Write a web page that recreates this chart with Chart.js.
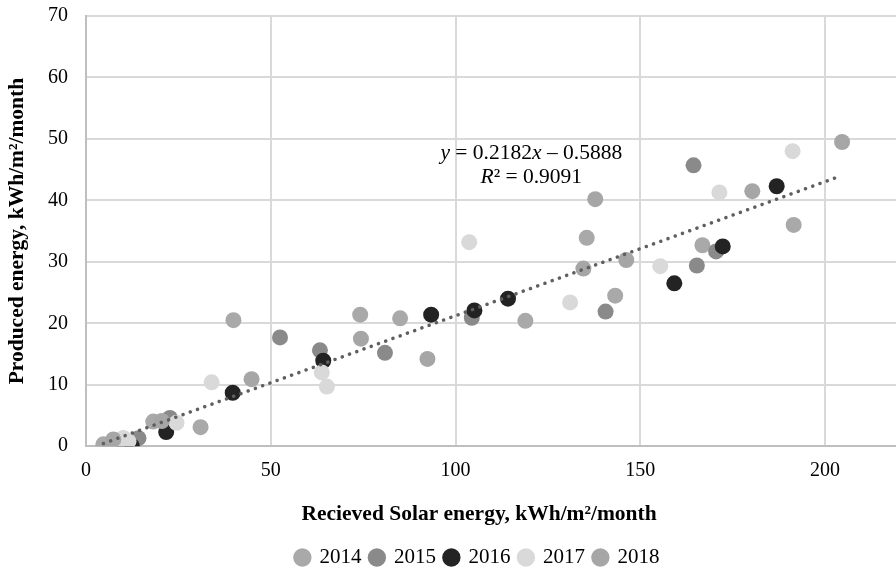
<!DOCTYPE html>
<html>
<head>
<meta charset="utf-8">
<script src="https://cdn.jsdelivr.net/npm/chart.js@4.4.1/dist/chart.umd.min.js"></script>
<style>
html,body{margin:0;padding:0;background:#fff;overflow:hidden;}
#wrap{position:relative;width:907px;height:578px;}
</style>
</head>
<body>
<div id="wrap"><canvas id="c" width="907" height="578"></canvas></div>
<script>
const years = ["2014","2015","2016","2017","2018"];
const colors = ["#a9a9a9","#8a8a8a","#232323","#d9d9d9","#a6a6a6"];
const s2014 = [[4.7,0.3],[18.2,4.0],[31,3.1],[39.9,20.5],[74.2,21.4],[85,20.8],[118.9,20.4],[135.5,33.9],[143.2,24.5],[166.8,32.7],[191.5,36.0]];
const s2015 = [[9,0.6],[14.2,1.3],[22.7,4.6],[52.5,17.7],[63.3,15.6],[80.9,15.2],[104.4,20.9],[140.6,21.9],[164.4,45.7],[165.3,29.4],[170.5,31.7]];
const s2016 = [[10.5,0.2],[12.4,0],[21.7,2.3],[39.7,8.7],[64.2,13.9],[93.4,21.4],[105.1,22.1],[114.2,24.0],[159.2,26.5],[172.3,32.5],[186.9,42.3]];
const s2017 = [[8.3,0],[10.1,1.35],[11.5,0.8],[24.5,3.8],[34,10.4],[63.8,12.0],[65.2,9.7],[103.7,33.2],[131,23.4],[155.4,29.3],[171.4,41.3],[191.2,48.0]];
const s2018 = [[6.5,0],[7.4,1.1],[20.5,4.1],[44.8,10.9],[74.4,17.5],[92.4,14.2],[134.6,28.9],[137.8,40.2],[146.2,30.3],[180.3,41.5],[204.6,49.5]];
const series = [s2014,s2015,s2016,s2017,s2018];
const trendSlope = 0.2182, trendIntercept = -0.5888, trendX = [4.7, 203];
const xTicks = [0,50,100,150,200];
const yTicks = [0,10,20,30,40,50,60,70];

const FONT = "'Liberation Serif','Times New Roman',serif";
const NB = "\u00A0";

const datasets = series.map((s,i)=>({
  label: years[i],
  data: s.map(p=>({x:p[0],y:p[1]})),
  backgroundColor: colors[i],
  borderColor: colors[i],
  borderWidth: 0,
  pointRadius: 8,
  pointHoverRadius: 8,
  order: 10 - i
}));
datasets.push({
  type:'line',
  label:'trend',
  data: trendX.map(x=>({x:x,y:trendSlope*x+trendIntercept})),
  borderColor:'#5f5f5f',
  borderWidth:3.5,
  borderDash:[0.1,7.6],
  borderCapStyle:'round',
  pointRadius:0,
  fill:false,
  order:0
});

const eqPlugin = {
  id:'eq',
  afterDatasetsDraw(chart){
    const ctx = chart.ctx;
    const xs = chart.scales.x, ys = chart.scales.y;
    const cx = xs.getPixelForValue(120.5);
    const y1 = ys.getPixelForValue(47.6);
    const y2 = ys.getPixelForValue(43.7);
    ctx.save();
    ctx.fillStyle = '#000';
    ctx.textBaseline = 'middle';
    const parts1 = [["y","italic "],[" = 0.2182",""],["x","italic "],[" – 0.5888",""]];
    const parts2 = [["R","italic "],["² = 0.9091",""]];
    function drawParts(parts, y){
      let w=0;
      parts.forEach(p=>{ctx.font=p[1]+"21.5px "+FONT; w+=ctx.measureText(p[0]).width;});
      let x = cx - w/2;
      parts.forEach(p=>{ctx.font=p[1]+"21.5px "+FONT; ctx.fillText(p[0],x,y); x+=ctx.measureText(p[0]).width;});
    }
    drawParts(parts1,y1);
    drawParts(parts2,y2);
    ctx.restore();
  }
};

const defaultLabels = Chart.defaults.plugins.legend.labels.generateLabels;

new Chart(document.getElementById('c'),{
  type:'scatter',
  data:{datasets},
  plugins:[eqPlugin],
  options:{
    responsive:false,
    animation:false,
    events:[],
    layout:{padding:{left:0,right:0,top:16,bottom:0}},
    plugins:{
      tooltip:{enabled:false},
      legend:{
        position:'bottom',
        labels:{
          generateLabels(chart){
            const items = defaultLabels(chart).filter(it=>it.text!=='trend');
            items.sort((a,b)=>a.datasetIndex-b.datasetIndex);
            items.unshift({text:NB+NB+NB, fillStyle:'rgba(0,0,0,0)', strokeStyle:'rgba(0,0,0,0)', lineWidth:0, hidden:false, pointStyle:'circle', datasetIndex:-1, fontColor:'rgba(0,0,0,0)'});
            return items;
          },
          usePointStyle:true,
          pointStyle:'circle',
          boxWidth:13,
          boxHeight:13,
          padding:9,
          color:'#000',
          font:{family:FONT,size:21}
        }
      }
    },
    scales:{
      x:{
        type:'linear',
        min:0,max:220,
        afterBuildTicks(axis){axis.ticks = xTicks.map(v=>({value:v}));},
        afterFit(axis){axis.paddingLeft=0;axis.paddingRight=0;},
        grid:{color:'#d9d9d9',lineWidth:2,drawTicks:false},
        border:{color:'#bfbfbf',width:2},
        ticks:{color:'#000',font:{family:FONT,size:20},padding:13,autoSkip:false,maxRotation:0},
        title:{display:true,text:'Recieved Solar energy, kWh/m²/month'+NB.repeat(5),color:'#000',font:{family:FONT,size:21.5,weight:'bold'},padding:{top:5,bottom:11}}
      },
      y:{
        type:'linear',
        min:0,max:70,
        afterBuildTicks(axis){axis.ticks = yTicks.map(v=>({value:v}));},
        afterFit(axis){axis.width = 86;axis.paddingTop=0;axis.paddingBottom=0;},
        grid:{color:'#d9d9d9',lineWidth:2,drawTicks:false},
        border:{color:'#bfbfbf',width:2},
        ticks:{color:'#000',font:{family:FONT,size:20},padding:18},
        title:{display:true,text:'Produced energy, kWh/m²/month',color:'#000',font:{family:FONT,size:21.5,weight:'bold'},padding:{top:5,bottom:3}}
      }
    }
  }
});
</script>
</body>
</html>
